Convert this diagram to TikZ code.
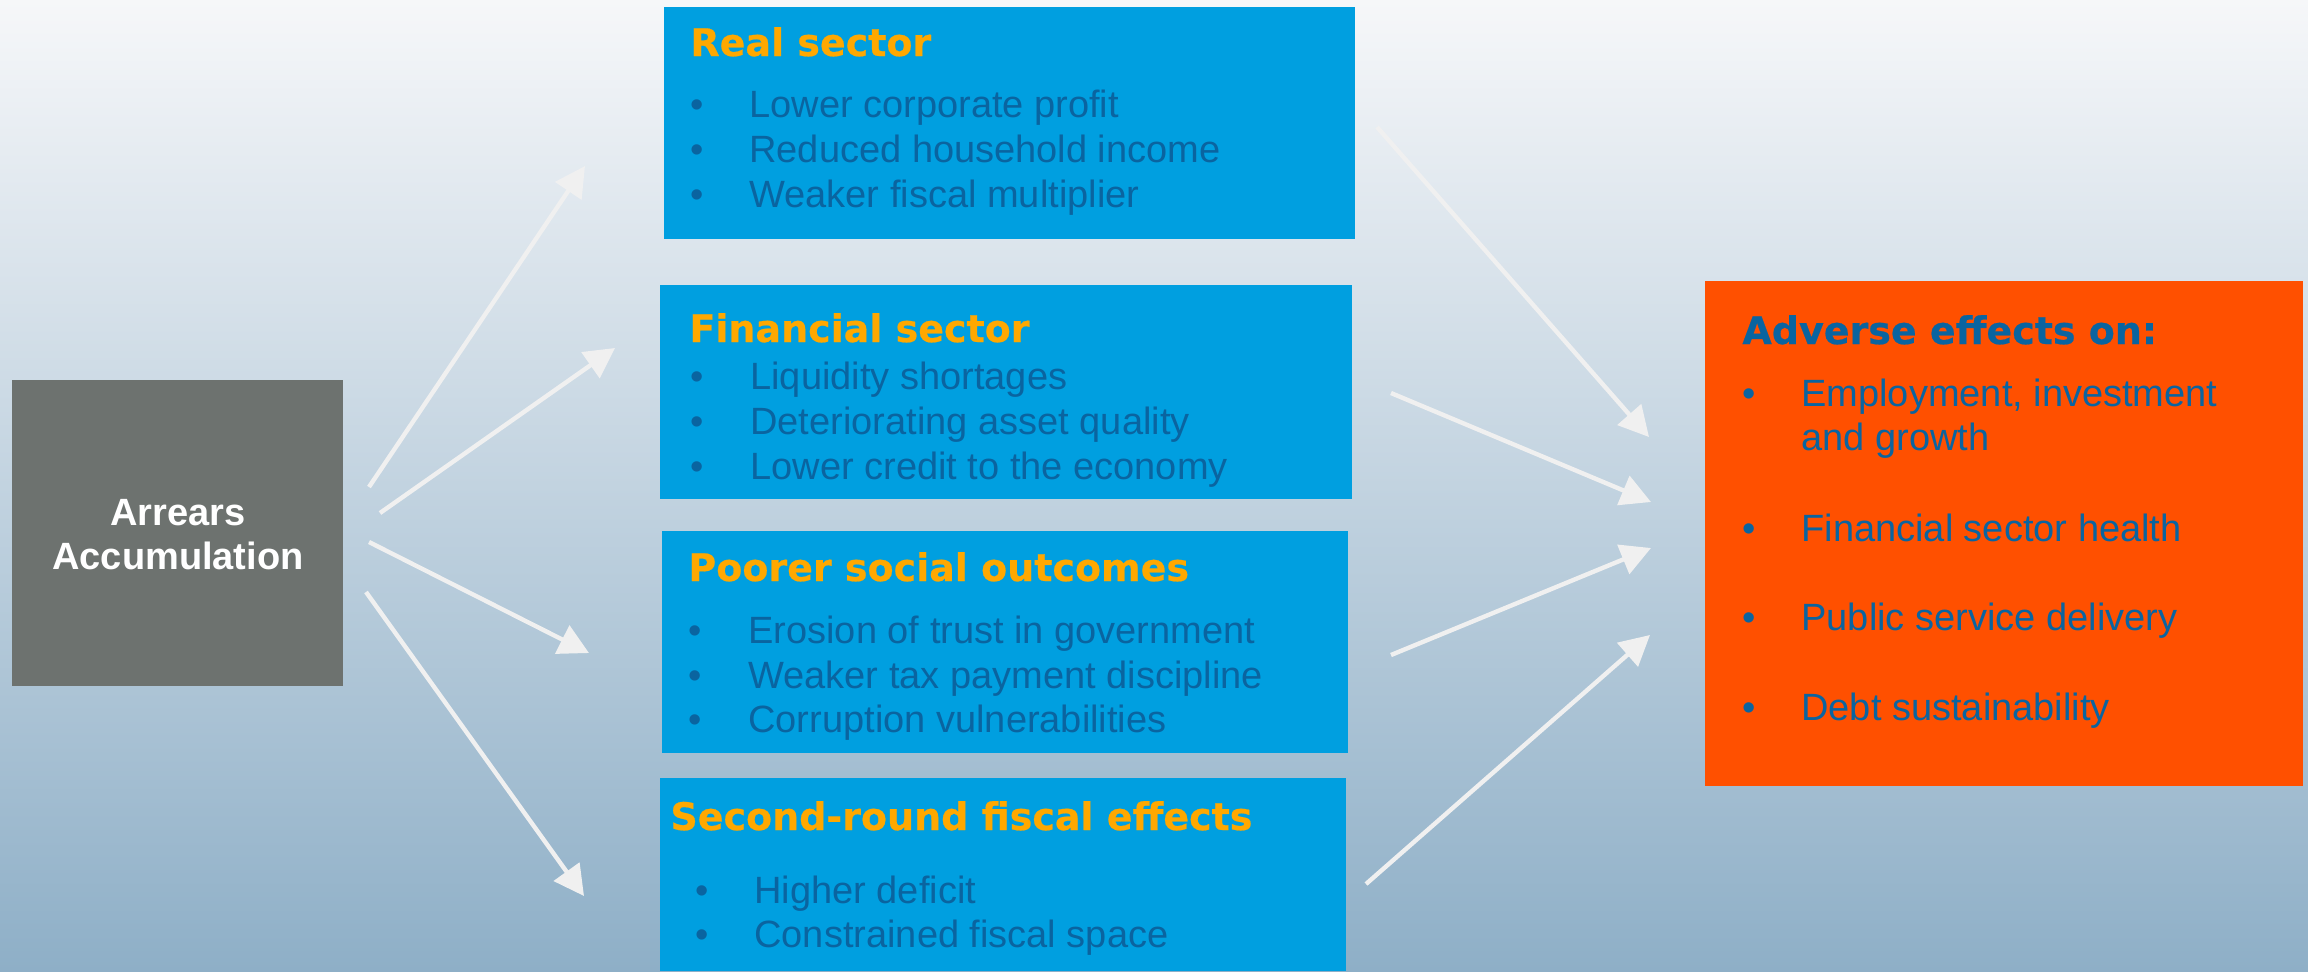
\documentclass[tikz,border=0pt]{standalone}
\usepackage{fontspec}
\setmainfont{Liberation Sans}
\newfontfamily\dejavu{DejaVu Sans}[BoldFeatures={FakeBold=0.5}]
\usetikzlibrary{arrows.meta}
\definecolor{bgtop}{HTML}{F6F7F9}
\definecolor{bgmid}{HTML}{C6D5E0}
\definecolor{bgbot}{HTML}{8EAFC7}
\definecolor{boxblue}{HTML}{009FE0}
\definecolor{boxorange}{HTML}{FF5000}
\definecolor{boxgray}{HTML}{6D726F}
\definecolor{titleorange}{HTML}{FFA800}
\definecolor{textblue}{HTML}{0A64A0}
\definecolor{arrowgray}{HTML}{F0F0F0}
\begin{document}
\begin{tikzpicture}[x=0.5pt,y=-0.5pt,
  panel/.style={inner sep=0pt, outer sep=0pt, anchor=north west, draw=none},
  paneltitle/.style={inner sep=0pt, anchor=base west, text=titleorange, font=\dejavu\bfseries\fontsize{19pt}{23pt}\selectfont},
  listitem/.style={inner sep=0pt, anchor=base west, text=textblue, font=\fontsize{19pt}{23pt}\selectfont},
  bulletmark/.style={inner sep=0pt, anchor=base, text=textblue, font=\fontsize{19pt}{23pt}\selectfont},
  flowarrow/.style={draw=arrowgray, line width=2.2pt, -{Triangle[length=15pt,width=15.5pt]}}]
\useasboundingbox (0,0) rectangle (2308,971);
\shade[top color=bgtop, middle color=bgmid, bottom color=bgbot] (0,0) rectangle (2308,971);

% boxes
\node[panel, fill=boxgray, minimum width=165.5pt, minimum height=153pt] (arrears) at (12,380) {};
\node[panel, fill=boxblue, minimum width=345.5pt, minimum height=116pt] (real) at (664,7) {};
\node[panel, fill=boxblue, minimum width=346pt, minimum height=107pt] (fin) at (660,285) {};
\node[panel, fill=boxblue, minimum width=343pt, minimum height=111pt] (soc) at (662,531) {};
\node[panel, fill=boxblue, minimum width=343pt, minimum height=96.5pt] (sec) at (660,778) {};
\node[panel, fill=boxorange, minimum width=299pt, minimum height=252.5pt] (adv) at (1705,281) {};

% arrears text
\node[inner sep=0pt, anchor=base, text=white, font=\bfseries\fontsize{19pt}{23pt}\selectfont] (arr1) at (178,525) {Arrears};
\node[inner sep=0pt, anchor=base, text=white, font=\bfseries\fontsize{19pt}{23pt}\selectfont] (arr2) at (178,569) {Accumulation};

% real sector
\node[paneltitle] (realt) at (690,56) {Real sector};
\node[bulletmark] (rb1) at (697,117) {•};
\node[bulletmark] (rb2) at (697,162) {•};
\node[bulletmark] (rb3) at (697,207) {•};
\node[listitem] (r1) at (749,117) {Lower corporate profit};
\node[listitem] (r2) at (749,162) {Reduced household income};
\node[listitem] (r3) at (749,207) {Weaker fiscal multiplier};

% financial sector
\node[paneltitle] (fint) at (689,342) {Financial sector};
\node[bulletmark] (fb1) at (697,389) {•};
\node[bulletmark] (fb2) at (697,434) {•};
\node[bulletmark] (fb3) at (697,479) {•};
\node[listitem] (f1) at (750,389) {Liquidity shortages};
\node[listitem] (f2) at (750,434) {Deteriorating asset quality};
\node[listitem] (f3) at (750,479) {Lower credit to the economy};

% social
\node[paneltitle] (soct) at (688,581) {Poorer social outcomes};
\node[bulletmark] (sb1) at (695,643) {•};
\node[bulletmark] (sb2) at (695,688) {•};
\node[bulletmark] (sb3) at (695,732) {•};
\node[listitem] (s1) at (748,643) {Erosion of trust in government};
\node[listitem] (s2) at (748,688) {Weaker tax payment discipline};
\node[listitem] (s3) at (748,732) {Corruption vulnerabilities};

% second round
\node[paneltitle] (sect) at (670,830) {Second-round fiscal effects};
\node[bulletmark] (cb1) at (702,903) {•};
\node[bulletmark] (cb2) at (702,947) {•};
\node[listitem] (c1) at (754,903) {Higher deficit};
\node[listitem] (c2) at (754,947) {Constrained fiscal space};

% adverse
\node[inner sep=0pt, anchor=base west, text=textblue, font=\dejavu\bfseries\fontsize{19pt}{23pt}\selectfont] (advt) at (1742,344) {Adverse effects on:};
\node[bulletmark] (ab1) at (1749,406) {•};
\node[bulletmark] (ab2) at (1749,541) {•};
\node[bulletmark] (ab3) at (1749,630) {•};
\node[bulletmark] (ab4) at (1749,720) {•};
\node[listitem] (a1) at (1801,406) {Employment, investment};
\node[listitem] (a1b) at (1801,450) {and growth};
\node[listitem] (a2) at (1801,541) {Financial sector health};
\node[listitem] (a3) at (1801,630) {Public service delivery};
\node[listitem] (a4) at (1801,720) {Debt sustainability};

% arrow end points
\coordinate (l1s) at (369,487); \coordinate (l1e) at (585,166);
\coordinate (l2s) at (380,513); \coordinate (l2e) at (615,348);
\coordinate (l3s) at (369,542); \coordinate (l3e) at (589,653);
\coordinate (l4s) at (366,592); \coordinate (l4e) at (584,896);
\coordinate (r1s) at (1377,127); \coordinate (r1e) at (1649,437);
\coordinate (r2s) at (1391,393); \coordinate (r2e) at (1651,502);
\coordinate (r3s) at (1391,655); \coordinate (r3e) at (1651,548);
\coordinate (r4s) at (1366,884); \coordinate (r4e) at (1650,635);

\draw[flowarrow] (l1s) -- (l1e);
\draw[flowarrow] (l2s) -- (l2e);
\draw[flowarrow] (l3s) -- (l3e);
\draw[flowarrow] (l4s) -- (l4e);
\draw[flowarrow] (r1s) -- (r1e);
\draw[flowarrow] (r2s) -- (r2e);
\draw[flowarrow] (r3s) -- (r3e);
\draw[flowarrow] (r4s) -- (r4e);
\end{tikzpicture}
\end{document}
